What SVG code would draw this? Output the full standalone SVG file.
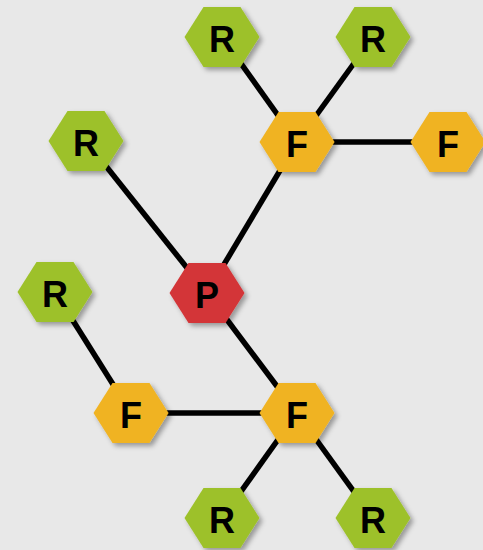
<svg xmlns="http://www.w3.org/2000/svg" width="483" height="550" viewBox="0 0 483 550">
<defs>
<filter id="sh" x="-30%" y="-30%" width="170%" height="170%">
<feDropShadow dx="3" dy="3" stdDeviation="2.5" flood-color="#000" flood-opacity="0.35"/>
</filter>
<polygon id="hex" points="-37.5,0 -18.5,-30 18.5,-30 37.5,0 18.5,30 -18.5,30"/>
</defs>
<style>
.e{stroke:#000;stroke-width:5.5;fill:none}
.r{fill:#9dc12b}
.f{fill:#f0b323}
.p{fill:#d33437}
text{font-family:"Liberation Sans",Arial,sans-serif;font-weight:bold;font-size:36px;fill:#000;text-anchor:middle;dominant-baseline:central}
</style>
<rect width="483" height="550" fill="#e8e8e8"/>
<g id="connectors">
<line class="e" x1="222" y1="37" x2="297" y2="142"/>
<line class="e" x1="373" y1="37" x2="297" y2="142"/>
<line class="e" x1="297" y1="142" x2="448" y2="142"/>
<line class="e" x1="86" y1="141" x2="207" y2="293"/>
<line class="e" x1="207" y1="293" x2="297" y2="142"/>
<line class="e" x1="55" y1="292" x2="131" y2="413"/>
<line class="e" x1="131" y1="413" x2="297" y2="413"/>
<line class="e" x1="207" y1="293" x2="297" y2="413"/>
<line class="e" x1="297" y1="413" x2="222" y2="518"/>
<line class="e" x1="297" y1="413" x2="373" y2="518"/>
</g>
<g id="r1" transform="translate(222,37)"><use href="#hex" class="r" filter="url(#sh)"/><text y="2">R</text></g>
<g id="r2" transform="translate(373,37)"><use href="#hex" class="r" filter="url(#sh)"/><text y="2">R</text></g>
<g id="f1" transform="translate(297,142)"><use href="#hex" class="f" filter="url(#sh)"/><text y="2">F</text></g>
<g id="f2" transform="translate(448,142)"><use href="#hex" class="f" filter="url(#sh)"/><text y="2">F</text></g>
<g id="r3" transform="translate(86,141)"><use href="#hex" class="r" filter="url(#sh)"/><text y="2">R</text></g>
<g id="r4" transform="translate(55,292)"><use href="#hex" class="r" filter="url(#sh)"/><text y="2">R</text></g>
<g id="p" transform="translate(207,293)"><use href="#hex" class="p" filter="url(#sh)"/><text y="2">P</text></g>
<g id="f3" transform="translate(131,413)"><use href="#hex" class="f" filter="url(#sh)"/><text y="2">F</text></g>
<g id="f4" transform="translate(297,413)"><use href="#hex" class="f" filter="url(#sh)"/><text y="2">F</text></g>
<g id="r5" transform="translate(222,518)"><use href="#hex" class="r" filter="url(#sh)"/><text y="2">R</text></g>
<g id="r6" transform="translate(373,518)"><use href="#hex" class="r" filter="url(#sh)"/><text y="2">R</text></g>
</svg>
